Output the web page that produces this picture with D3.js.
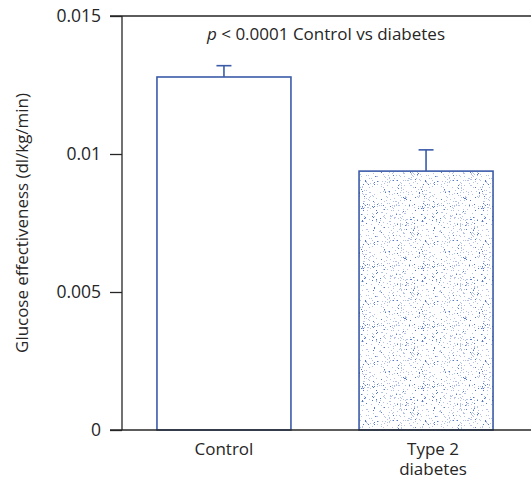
<!DOCTYPE html>
<html>
<head>
<meta charset="utf-8">
<script src="https://cdn.jsdelivr.net/npm/d3@7"></script>
<style>
  body { margin: 0; background: #fff; }
  svg { display: block; font-family: "Open Sans", sans-serif; }
</style>
</head>
<body>
<svg id="chart" width="531" height="479"></svg>
<script>
// data
var groups = ["Control", "Type 2\ndiabetes"];
var means = [0.01279, 0.00938];
var errs = [0.00041, 0.00077];
var yTicks = [0, 0.005, 0.01, 0.015];
var yTickLabels = ["0", "0.005", "0.01", "0.015"];

var svg = d3.select("#chart");
var margin = { top: 16, left: 122, bottom: 49 };
var height = 479;
var blue = "#3b5ba9";
var ink = "#262626";

let y = d3.scaleLinear().domain([0, 0.015]).range([height - margin.bottom, margin.top]);
let x = d3.scaleBand().domain(groups).range([122, 528]).paddingInner(0.337).paddingOuter(0.173);

// stipple pattern for the diabetes bar
var defs = svg.append("defs");
var pat = defs.append("pattern")
  .attr("id", "stipple")
  .attr("patternUnits", "userSpaceOnUse")
  .attr("width", 60).attr("height", 60);
pat.append("rect").attr("width", 60).attr("height", 60).attr("fill", "#fff");
var seed = 7;
function rnd() { seed = (seed * 16807) % 2147483647; return seed / 2147483647; }
for (var i = 0; i < 400; i++) {
  var shade = rnd();
  pat.append("rect")
    .attr("x", Math.floor(rnd() * 60))
    .attr("y", Math.floor(rnd() * 60))
    .attr("width", 1).attr("height", 1)
    .attr("fill", shade < 0.22 ? "#5677c2" : "#b6c3e5");
}

// bars
svg.selectAll("rect.bar")
  .data(groups)
  .enter().append("rect")
  .attr("class", "bar")
  .attr("x", d => x(d))
  .attr("y", (d, i) => y(means[i]))
  .attr("width", x.bandwidth())
  .attr("height", (d, i) => y(0) - y(means[i]))
  .attr("fill", (d, i) => i == 0 ? "#fff" : "url(#stipple)")
  .attr("stroke", blue)
  .attr("stroke-width", 1.6);

// error bars (upper only)
groups.forEach(function(g, i) {
  let cx = x(g) + x.bandwidth() / 2;
  svg.append("line")
    .attr("x1", cx).attr("x2", cx)
    .attr("y1", y(means[i])).attr("y2", y(means[i] + errs[i]))
    .attr("stroke", blue).attr("stroke-width", 1.6);
  svg.append("line")
    .attr("x1", cx - 7.5).attr("x2", cx + 7.5)
    .attr("y1", y(means[i] + errs[i])).attr("y2", y(means[i] + errs[i]))
    .attr("stroke", blue).attr("stroke-width", 1.6);
});

// y axis
svg.append("g")
  .attr("transform", `translate(${margin.left},0)`)
  .call(d3.axisLeft(y).tickValues(yTicks).tickSize(12).tickPadding(9)
    .tickFormat((d, i) => yTickLabels[i]))
  .call(g => g.selectAll("line").attr("stroke", ink).attr("stroke-width", 1.3))
  .call(g => g.select(".domain").attr("stroke", ink).attr("stroke-width", 1.3).attr("d", `M0,${y(0)}V${y(0.015)}`))
  .call(g => g.selectAll("text").attr("fill", ink).style("font-size", "17.5px").style("font-family", "Open Sans"));

// top and bottom frame lines
[0, 0.015].forEach(function(v) {
  svg.append("line")
    .attr("x1", 110).attr("x2", 531)
    .attr("y1", y(v)).attr("y2", y(v))
    .attr("stroke", ink).attr("stroke-width", 1.3);
});

// x labels, one text per line
groups.forEach(function(g, i) {
  let cx = x(g) + x.bandwidth() / 2 + (i == 1 ? 7 : 0);
  g.split("\n").forEach(function(line, j) {
    svg.append("text")
      .attr("x", cx)
      .attr("y", 455 + j * 19.5)
      .attr("text-anchor", "middle")
      .style("font-size", "17px")
      .attr("fill", ink)
      .text(line);
  });
});

// y axis title, sized to the length it has in the picture
let yTitle = svg.append("text")
  .attr("transform", `translate(28,${(y(0) + y(0.015)) / 2}) rotate(-90)`)
  .attr("text-anchor", "middle")
  .style("font-size", "14.5px")
  .attr("fill", ink)
  .text("Glucose effectiveness (dl/kg/min)");
let len = yTitle.node().getComputedTextLength();
yTitle.style("font-size", (14.5 * 260 / len) + "px");

// annotation
let note = svg.append("text")
  .attr("x", 326).attr("y", 40)
  .attr("text-anchor", "middle")
  .style("font-size", "17px")
  .attr("fill", ink);
note.append("tspan").style("font-style", "italic").text("p");
note.append("tspan").text(" < 0.0001 Control vs diabetes");
</script>
</body>
</html>
